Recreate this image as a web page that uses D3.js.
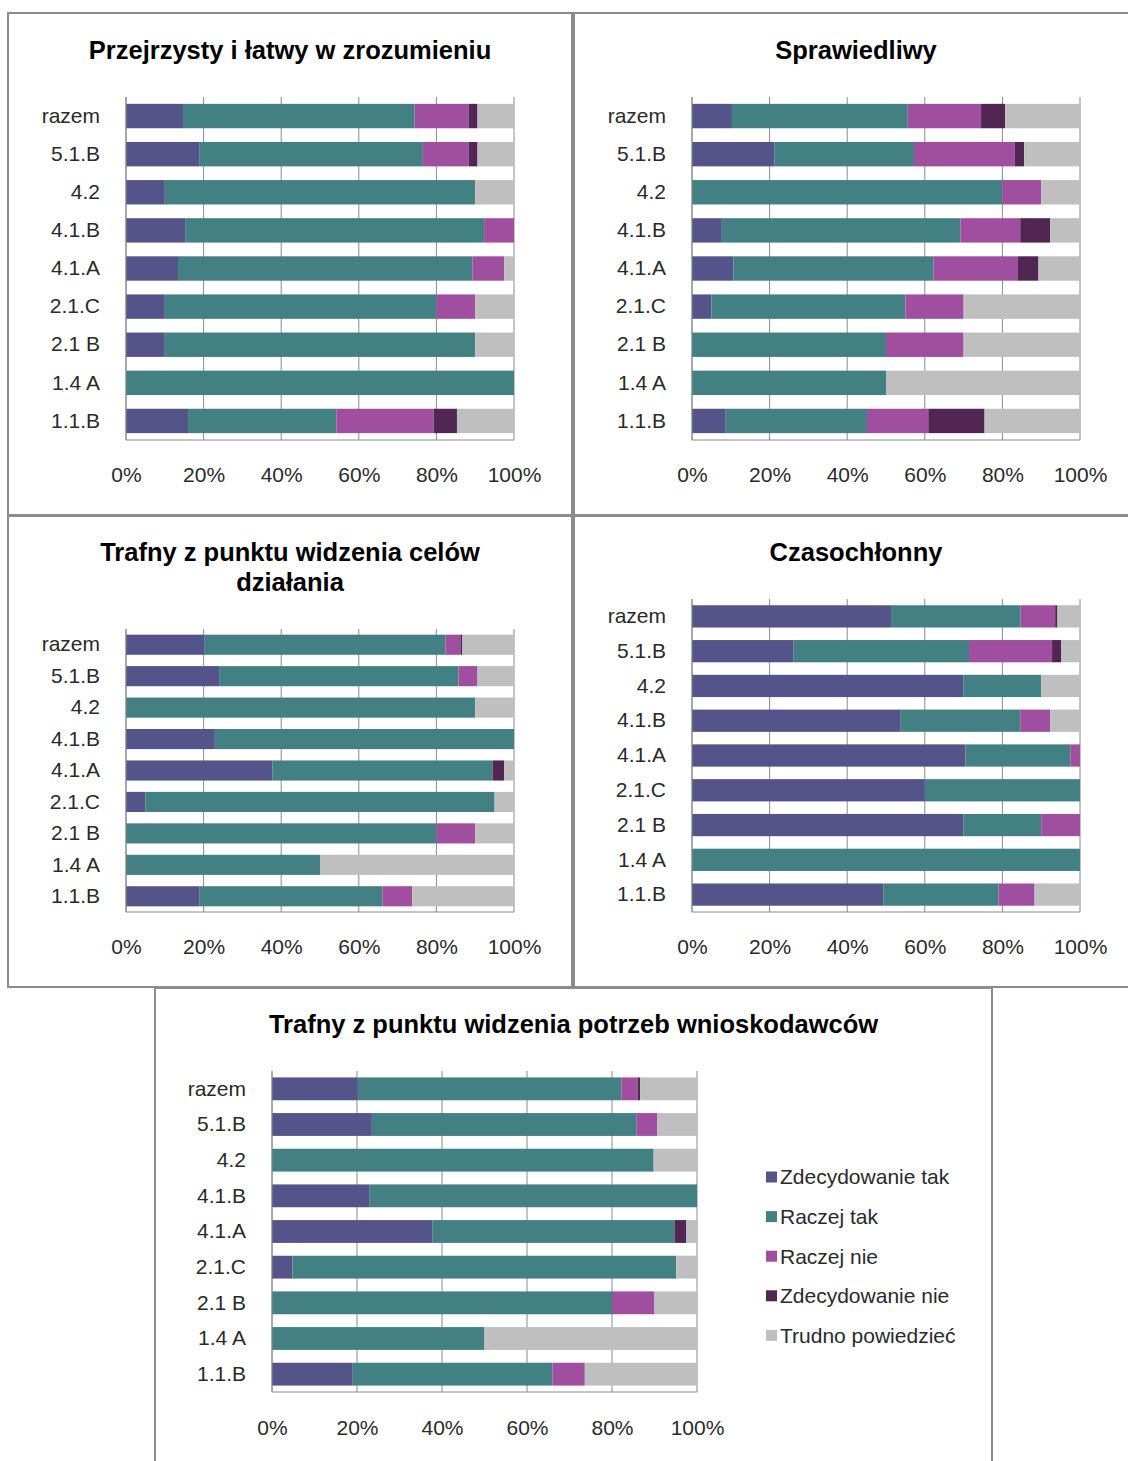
<!DOCTYPE html>
<html>
<head>
<meta charset="utf-8">
<script src="https://cdn.jsdelivr.net/npm/d3@7"></script>
<style>
  body { margin: 0; background: #fff; }
  svg { display: block; }
  text { font-family: "Liberation Sans", Arial, sans-serif; }
</style>
</head>
<body>
<svg id="chart" width="1128" height="1461"></svg>
<script>
// categories (top to bottom) and answer series
const categories = ['razem', '5.1.B', '4.2', '4.1.B', '4.1.A', '2.1.C', '2.1 B', '1.4 A', '1.1.B'];
const seriesNames = ['Zdecydowanie tak', 'Raczej tak', 'Raczej nie', 'Zdecydowanie nie', 'Trudno powiedzieć'];
const seriesColors = ['#54548a', '#438084', '#a04ea0', '#512652', '#bfbfbf'];
const tickValues = [0, 0.2, 0.4, 0.6, 0.8, 1];
const tickLabels = ['0%', '20%', '40%', '60%', '80%', '100%'];

// percentages per category: [zdec. tak, raczej tak, raczej nie, zdec. nie, trudno]
const przejrzystyValues = [
    [14.7, 59.7, 13.9, 2.3, 9.4],
    [19.0, 57.5, 11.8, 2.3, 9.4],
    [10, 80, 0, 0, 10],
    [15.4, 76.9, 7.7, 0, 0],
    [13.4, 75.9, 8.2, 0, 2.5],
    [10, 70, 10, 0, 10],
    [10, 80, 0, 0, 10],
    [0, 100, 0, 0, 0],
    [16.0, 38.2, 25.1, 6.0, 14.7]
];

const sprawiedliwyValues = [
    [10.3, 45.3, 18.9, 6.2, 19.3],
    [21.3, 35.9, 26.0, 2.4, 14.4],
    [0, 80, 10, 0, 10],
    [7.7, 61.5, 15.4, 7.7, 7.7],
    [10.7, 51.5, 21.8, 5.3, 10.7],
    [5, 50, 15, 0, 30],
    [0, 50, 20, 0, 30],
    [0, 50, 0, 0, 50],
    [8.7, 36.4, 15.8, 14.5, 24.6]
];

const celeValues = [
    [20.3, 62.0, 3.9, 0.5, 13.3],
    [24.0, 61.7, 4.9, 0, 9.4],
    [0, 90, 0, 0, 10],
    [22.9, 77.1, 0, 0, 0],
    [37.7, 56.8, 0, 3.0, 2.5],
    [5, 90, 0, 0, 5],
    [0, 80, 10, 0, 10],
    [0, 50, 0, 0, 50],
    [19.0, 47.1, 7.7, 0, 26.2]
];

const czasochlonnyValues = [
    [51.3, 33.4, 8.9, 0.6, 5.8],
    [26.2, 45.2, 21.4, 2.4, 4.8],
    [70, 20, 0, 0, 10],
    [53.8, 30.8, 7.7, 0, 7.7],
    [70.5, 27.0, 2.5, 0, 0],
    [60, 40, 0, 0, 0],
    [70, 20, 10, 0, 0],
    [0, 100, 0, 0, 0],
    [49.3, 29.7, 9.3, 0, 11.7]
];

const potrzebyValues = [
    [20.2, 62.0, 3.8, 0.6, 13.4],
    [23.5, 62.3, 4.8, 0, 9.4],
    [0, 89.8, 0, 0, 10.2],
    [23.0, 77.0, 0, 0, 0],
    [37.7, 57.0, 0, 2.8, 2.5],
    [4.8, 90.3, 0, 0, 4.9],
    [0, 80, 10, 0, 10],
    [0, 50, 0, 0, 50],
    [19.0, 47.0, 7.6, 0, 26.4]
];

const svg = d3.select('#chart');

function drawPanel(opts) {
    const g = svg.append('g');

    // panel frame
    g.append('rect')
        .attr('x', opts.box[0])
        .attr('y', opts.box[1])
        .attr('width', opts.box[2])
        .attr('height', opts.box[3])
        .attr('fill', '#fff')
        .attr('stroke', '#8c8c8c')
        .attr('stroke-width', 2);

    // title (one or more lines)
    const cx = opts.box[0] + opts.box[2] / 2;
    opts.title.forEach((line, i) => {
        g.append('text')
            .attr('x', cx)
            .attr('y', opts.titleY + i * 30)
            .attr('dy', '0.35em')
            .attr('text-anchor', 'middle')
            .style('font-size', '25.5px')
            .style('font-weight', 'bold')
            .attr('fill', '#000')
            .text(line);
    });

    const [x0, x1, y0, y1] = opts.plot;
    const xScale = d3.scaleLinear().domain([0, 1]).range([x0, x1]);
    const yScale = d3.scaleBand().domain(categories).range([y0, y1]).paddingInner(0.36).paddingOuter(0.18);

    // vertical gridlines
    g.selectAll('.grid')
        .data(tickValues)
        .enter()
        .append('line')
        .attr('x1', d => xScale(d))
        .attr('x2', d => xScale(d))
        .attr('y1', y0)
        .attr('y2', y1)
        .attr('stroke', '#8a8a8a')
        .attr('stroke-width', 1);

    // stacked 100% bars
    const stacked = d3.stack()
        .keys(d3.range(seriesNames.length))
        .value((row, k) => row[k])
        .offset(d3.stackOffsetExpand)(opts.values);

    stacked.forEach((layer, k) => {
        g.selectAll('.s' + k)
            .data(layer)
            .enter()
            .append('rect')
            .attr('x', d => xScale(d[0]))
            .attr('y', (d, i) => yScale(categories[i]))
            .attr('width', d => Math.max(0, xScale(d[1]) - xScale(d[0])))
            .attr('height', yScale.bandwidth())
            .attr('fill', seriesColors[k]);
    });

    // axis lines (left + bottom)
    g.append('line')
        .attr('x1', x0).attr('x2', x0).attr('y1', y0).attr('y2', y1)
        .attr('stroke', '#8a8a8a');
    g.append('line')
        .attr('x1', x0).attr('x2', x1).attr('y1', y1).attr('y2', y1)
        .attr('stroke', '#8a8a8a');

    // category labels
    const yAxis = g.append('g')
        .attr('transform', `translate(${x0},0)`)
        .call(d3.axisLeft(yScale).tickSize(0).tickPadding(26));
    yAxis.select('.domain').remove();

    // percentage labels
    const xAxis = g.append('g')
        .attr('transform', `translate(0,${y1})`)
        .call(d3.axisBottom(xScale).tickValues(tickValues)
            .tickFormat((d, i) => tickLabels[i]).tickSize(0).tickPadding(opts.labelGap - 7.5));
    xAxis.select('.domain').remove();

    g.selectAll('.tick text')
        .style('font-size', '21px')
        .style('font-family', '"Liberation Sans", Arial, sans-serif')
        .attr('fill', '#2a2a2a');
}

drawPanel({
    box: [8, 13, 564, 502], title: ['Przejrzysty i łatwy w zrozumieniu'], titleY: 50,
    plot: [126, 514, 97, 440], labelGap: 35, values: przejrzystyValues
});
drawPanel({
    box: [574, 13, 564, 502], title: ['Sprawiedliwy'], titleY: 50,
    plot: [692, 1080, 97, 440], labelGap: 35, values: sprawiedliwyValues
});
drawPanel({
    box: [8, 516, 564, 471], title: ['Trafny z punktu widzenia celów', 'działania'], titleY: 552,
    plot: [126, 514, 629, 912], labelGap: 35, values: celeValues
});
drawPanel({
    box: [574, 516, 564, 471], title: ['Czasochłonny'], titleY: 552,
    plot: [692, 1080, 599, 912], labelGap: 35, values: czasochlonnyValues
});
drawPanel({
    box: [155, 988, 837, 490], title: ['Trafny z punktu widzenia potrzeb wnioskodawców'], titleY: 1024,
    plot: [272, 697, 1071, 1392], labelGap: 36, values: potrzebyValues
});

// legend for the bottom chart
const legend = svg.append('g').attr('transform', 'translate(766,1177)');
seriesNames.forEach((name, i) => {
    const item = legend.append('g').attr('transform', `translate(0,${i * 39.6})`);
    item.append('rect')
        .attr('x', 0).attr('y', -5.5)
        .attr('width', 11).attr('height', 11)
        .attr('fill', seriesColors[i]);
    item.append('text')
        .attr('x', 14)
        .attr('dy', '0.35em')
        .style('font-size', '21px')
        .attr('fill', '#2a2a2a')
        .text(name);
});
</script>
</body>
</html>
